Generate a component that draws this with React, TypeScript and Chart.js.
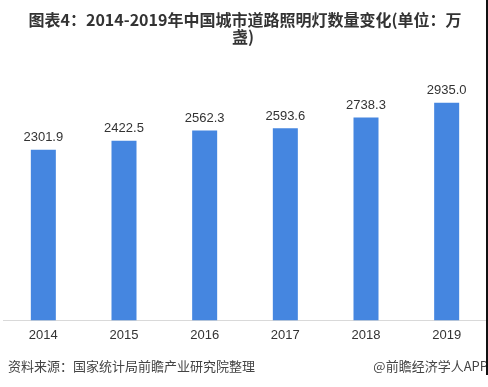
import React, { useEffect, useRef } from 'react';
import { Chart, registerables } from 'chart.js';

Chart.register(...registerables);

const years = ['2014', '2015', '2016', '2017', '2018', '2019'];
const lampCounts = [2301.9, 2422.5, 2562.3, 2593.6, 2738.3, 2935.0];
const titleLines = ['图表4：2014-2019年中国城市道路照明灯数量变化(单位：万', '盏)'];
const sourceText = '资料来源：国家统计局前瞻产业研究院整理';
const creditText = '@前瞻经济学人APP';

const CJK = '"Noto Sans CJK SC", "Noto Sans", sans-serif';
const NUM = '"Liberation Sans", Arial, sans-serif';

const decorPlugin = {
  id: 'decor',
  afterDraw(chart: any) {
    const ctx = chart.ctx;
    ctx.save();
    // title
    ctx.fillStyle = '#333333';
    ctx.font = `bold 16px ${CJK}`;
    ctx.textAlign = 'center';
    ctx.textBaseline = 'middle';
    ctx.fillText(titleLines[0], 245, 20);
    ctx.fillText(titleLines[1], 243, 37);

    // data labels
    const meta = chart.getDatasetMeta(0);
    ctx.font = `13px ${NUM}`;
    ctx.fillStyle = '#333333';
    ctx.textAlign = 'center';
    ctx.textBaseline = 'alphabetic';
    meta.data.forEach((bar: any, i: number) => {
      ctx.fillText(lampCounts[i].toFixed(1), bar.x, bar.y - 8.5);
    });

    // footer
    ctx.font = `13px ${CJK}`;
    ctx.fillStyle = '#444444';
    ctx.textBaseline = 'middle';
    ctx.textAlign = 'left';
    ctx.fillText(sourceText, 8, 366);
    ctx.textAlign = 'right';
    ctx.fillText(creditText, 488, 366);

    // right edge border
    ctx.fillStyle = '#111111';
    ctx.fillRect(486, 0, 2, 375);
    ctx.restore();
  },
};

export default function App() {
  const ref = useRef<HTMLCanvasElement>(null);
  useEffect(() => {
    if (!ref.current) return;
    const chart = new Chart(ref.current, {
      type: 'bar',
      data: {
        labels: years,
        datasets: [
          {
            data: lampCounts,
            backgroundColor: '#4586e0',
            barPercentage: 0.31,
            categoryPercentage: 1,
          },
        ],
      },
      options: {
        responsive: false,
        animation: false,
        devicePixelRatio: 1,
        layout: { padding: { top: 61, bottom: 37, left: 3, right: 1 } },
        plugins: {
          legend: { display: false },
          title: { display: false },
          tooltip: { enabled: false },
        },
        scales: {
          x: {
            grid: { display: false, drawTicks: false },
            border: { display: true, color: '#d9d9d9', width: 1 },
            ticks: { color: '#333333', padding: 7, font: { size: 13, family: NUM } },
          },
          y: {
            display: false,
            min: 0,
            max: 3500,
            grid: { display: false },
          },
        },
      },
      plugins: [decorPlugin],
    });
    return () => chart.destroy();
  }, []);
  return (
    <div style={{ position: 'fixed', left: 0, top: 0, width: 488, height: 387, background: '#ffffff' }}>
      <canvas ref={ref} width={488} height={387} style={{ width: 488, height: 387, display: 'block' }} />
    </div>
  );
}
